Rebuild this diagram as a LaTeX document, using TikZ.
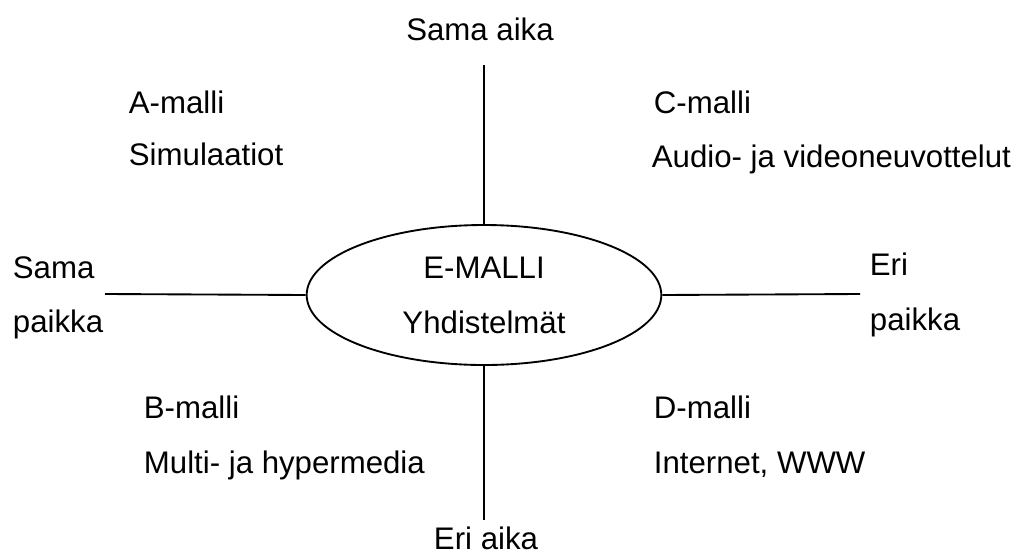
\documentclass[tikz,border=0pt]{standalone}
\usepackage{fontspec}
\setmainfont{Liberation Sans}
\usetikzlibrary{shapes.geometric}

\begin{document}
\begin{tikzpicture}[x=0.75pt, y=-0.75pt, line width=1.4pt,
    teksti/.style={anchor=base west, inner sep=0pt, font=\fontsize{23.4}{27}\selectfont},
    keski/.style={anchor=base, inner sep=0pt, font=\fontsize{23.4}{27}\selectfont}]
    \useasboundingbox (0,0) rectangle (1026,554);
    % Ellipsi
    \node[draw, ellipse, minimum width=266pt, minimum height=105pt, inner sep=0pt] (emalli) at (484,295) {};
    \node[keski] (emallinimi) at (484,278) {E-MALLI};
    \node[keski] (yhdistelmat) at (484,333) {Yhdistelmät};
    % Akselit
    \coordinate (ylaosa) at (484,65);
    \coordinate (alaosa) at (484,520);
    \coordinate (vasen) at (105,294);
    \coordinate (oikea) at (860,294);
    \draw (ylaosa) -- (emalli.north);
    \draw (emalli.south) -- (alaosa);
    \draw (vasen) -- (emalli.west);
    \draw (emalli.east) -- (oikea);
    % Akseleiden nimet
    \node[keski] (samaaika) at (480,40) {Sama aika};
    \node[keski] (eriaika) at (486,549) {Eri aika};
    \node[teksti] (sama) at (12,278) {Sama};
    \node[teksti] (samapaikka) at (12,332) {paikka};
    \node[teksti] (eri) at (869,275) {Eri};
    \node[teksti] (eripaikka) at (869,330) {paikka};
    % Mallit
    \node[teksti] (amalli) at (128,113) {A-malli};
    \node[teksti] (simulaatiot) at (128,165) {Simulaatiot};
    \node[teksti] (cmalli) at (653,113) {C-malli};
    \node[teksti] (audio) at (651,167) {Audio- ja videoneuvottelut};
    \node[teksti] (bmalli) at (143,418) {B-malli};
    \node[teksti] (multi) at (143,473) {Multi- ja hypermedia};
    \node[teksti] (dmalli) at (653,418) {D-malli};
    \node[teksti] (internet) at (653,473) {Internet, WWW};
\end{tikzpicture}
\end{document}
